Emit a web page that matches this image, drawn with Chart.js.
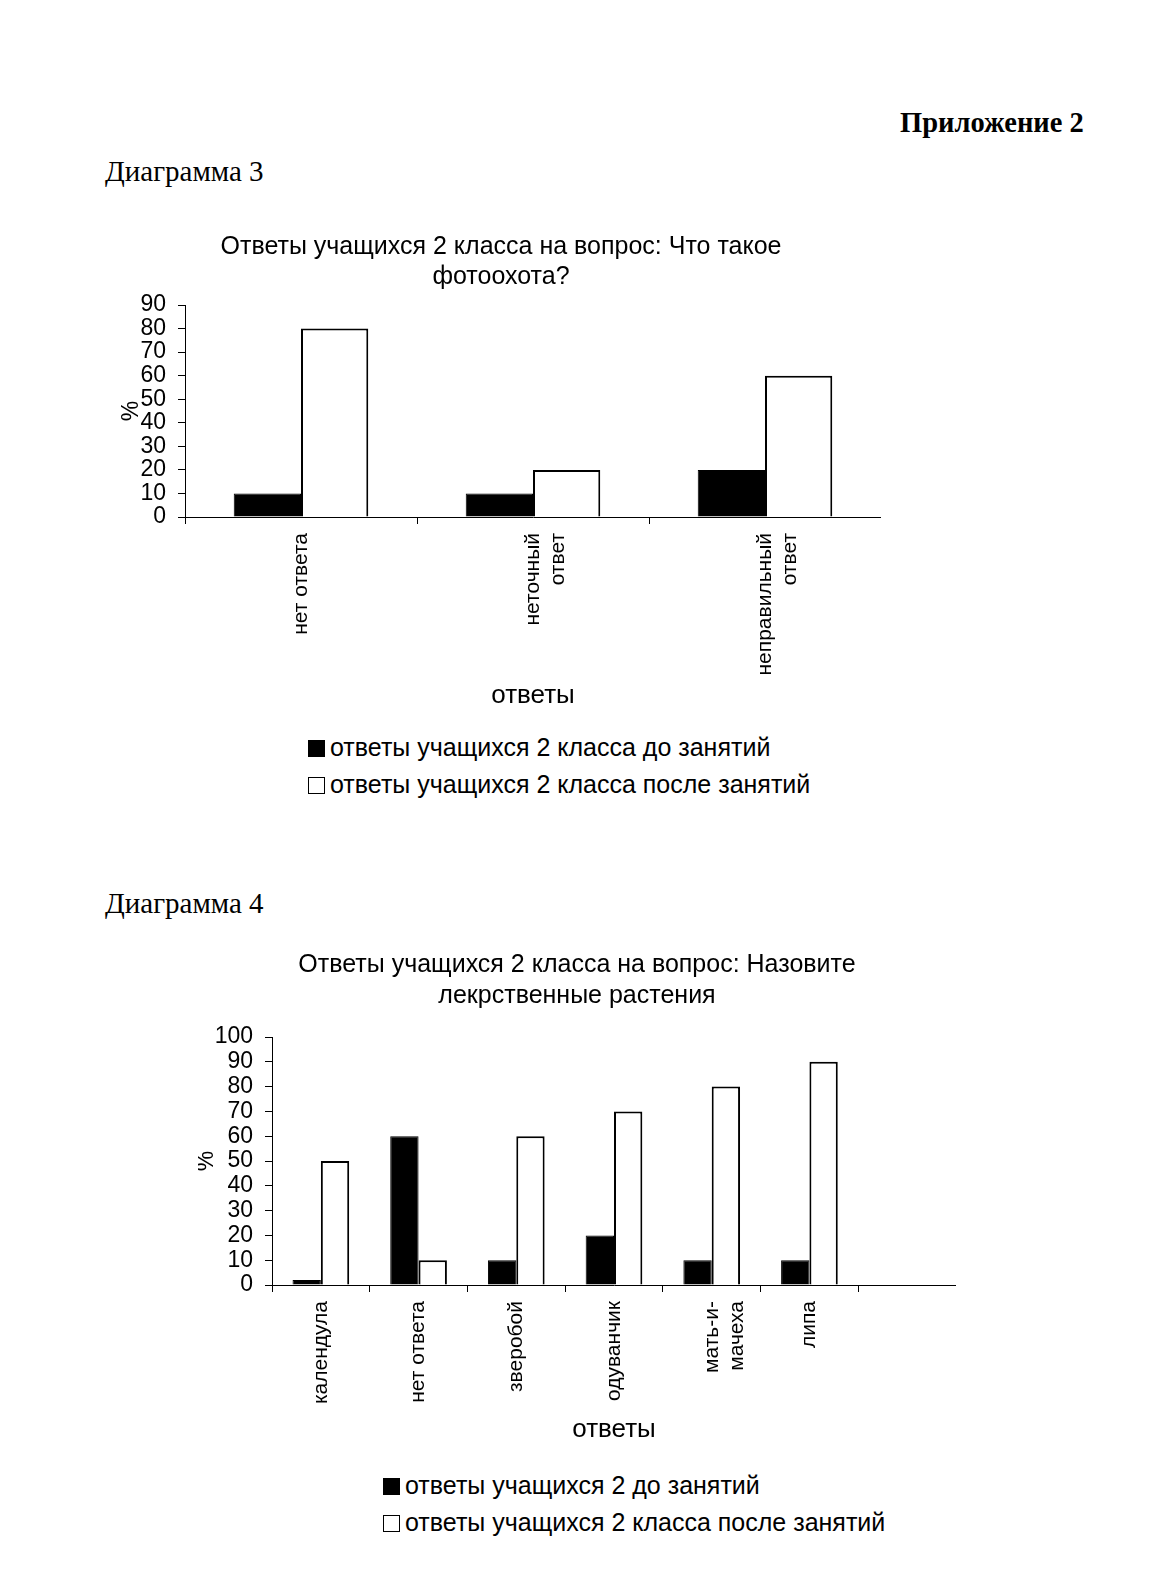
<!DOCTYPE html>
<html lang="ru">
<head>
<meta charset="utf-8">
<title>Приложение 2</title>
<script src="https://cdn.jsdelivr.net/npm/chart.js@4.4.1/dist/chart.umd.min.js"></script>
<style>
    html, body { margin: 0; padding: 0; background: #fff; }
    body { position: relative; width: 1158px; height: 1573px; overflow: hidden; color: #000;
           font-family: "Liberation Sans", Arial, sans-serif; }
    .serif { position: absolute; font-family: "Liberation Serif", "Times New Roman", serif; white-space: nowrap; }
    .box { position: absolute; }
    .legend { position: absolute; font-size: 25px; line-height: 37px; white-space: nowrap; }
    .legend .sw { display: inline-block; box-sizing: border-box; width: 17px; height: 17px;
                  border: 1.5px solid #000; margin-right: 5px; vertical-align: -1px; }
</style>
</head>
<body>

<div class="serif" style="left:900px; top:109px; font-size:28.5px; line-height:28px; font-weight:bold;">Приложение 2</div>
<div class="serif" style="left:105px; top:157px; font-size:29px; line-height:29px;">Диаграмма 3</div>
<div class="box" style="left:121px; top:230px; width:760px; height:480px;"><canvas id="chart3"></canvas></div>
<div class="legend" id="legend3" style="left:308px; top:729px;"></div>

<div class="serif" style="left:105px; top:889px; font-size:29px; line-height:29px;">Диаграмма 4</div>
<div class="box" style="left:198px; top:945px; width:758px; height:495px;"><canvas id="chart4"></canvas></div>
<div class="legend" id="legend4" style="left:383px; top:1467px;"></div>

<script>
// Диаграмма 3
const chart3Title = ['Ответы учащихся 2 класса на вопрос: Что такое', 'фотоохота?'];
const chart3Categories = ['нет ответа', ['неточный', 'ответ'], ['неправильный', 'ответ']];
const chart3Series = ['ответы учащихся 2 класса до занятий', 'ответы учащихся 2 класса после занятий'];
const chart3Before = [10, 10, 20];
const chart3After = [80, 20, 60];
const chart3YMax = 90;

// Диаграмма 4
const chart4Title = ['Ответы учащихся 2 класса на вопрос: Назовите', 'лекрственные растения'];
const chart4Categories = ['календула', 'нет ответа', 'зверобой', 'одуванчик', ['мать-и-', 'мачеха'], 'липа', ''];
const chart4Series = ['ответы учащихся 2 до занятий', 'ответы учащихся 2 класса после занятий'];
const chart4Before = [2, 60, 10, 20, 10, 10, null];
const chart4After = [50, 10, 60, 70, 80, 90, null];
const chart4YMax = 100;

const yStep = 10;
const axisTitle = 'ответы';
const yTitle = '%';
const FONT = '"Liberation Sans", Arial, sans-serif';

Chart.defaults.color = '#000';
Chart.defaults.font.family = FONT;

function makeChart(id, opts) {
    const ctx = document.getElementById(id).getContext('2d');
    return new Chart(ctx, {
        type: 'bar',
        data: {
            labels: opts.labels,
            datasets: [
                {
                    label: opts.series[0],
                    data: opts.before,
                    backgroundColor: '#000',
                    borderColor: '#000',
                    borderWidth: 1,
                    categoryPercentage: 0.58,
                    barPercentage: 1,
                },
                {
                    label: opts.series[1],
                    data: opts.after,
                    backgroundColor: '#fff',
                    borderColor: '#000',
                    borderWidth: 2,
                    categoryPercentage: 0.58,
                    barPercentage: 1,
                }
            ]
        },
        options: {
            responsive: true,
            maintainAspectRatio: false,
            animation: false,
            layout: { padding: 0 },
            scales: {
                x: {
                    afterFit: (scale) => { scale.height = opts.xHeight; },
                    grid: { drawOnChartArea: false, drawTicks: true, tickLength: 7, color: '#000', offset: true },
                    border: { color: '#000', width: 1 },
                    ticks: { minRotation: 90, maxRotation: 90, autoSkip: false, padding: 9,
                             font: { size: 21 }, color: '#000' },
                    title: { display: true, text: axisTitle, font: { size: 26, lineHeight: 1.1 },
                             padding: { top: 0, bottom: opts.xTitlePad }, color: '#000' }
                },
                y: {
                    min: 0,
                    max: opts.yMax,
                    afterFit: (scale) => { scale.width = opts.yWidth; },
                    grid: { drawOnChartArea: false, drawTicks: true, tickLength: 7, color: '#000' },
                    border: { color: '#000', width: 1 },
                    ticks: { stepSize: yStep, autoSkip: false, padding: 12, font: { size: 23, lineHeight: 1 }, color: '#000' },
                    title: { display: true, text: yTitle, font: { size: 23, lineHeight: 1 },
                             padding: { top: opts.yTitlePad, bottom: 0 }, color: '#000' }
                }
            },
            plugins: {
                legend: { display: false },
                tooltip: { enabled: false },
                title: {
                    display: true,
                    text: opts.title,
                    color: '#000',
                    font: { size: 25, weight: 'normal', lineHeight: opts.titleLh },
                    padding: { top: opts.titlePadTop, bottom: opts.titlePad }
                }
            }
        }
    });
}

function buildLegend(el, chart) {
    chart.data.datasets.forEach(ds => {
        const row = document.createElement('div');
        const sw = document.createElement('span');
        sw.className = 'sw';
        sw.style.background = ds.backgroundColor;
        row.appendChild(sw);
        row.appendChild(document.createTextNode(ds.label));
        el.appendChild(row);
    });
}

const chart3 = makeChart('chart3', {
    labels: chart3Categories, series: chart3Series, before: chart3Before, after: chart3After,
    title: chart3Title, yMax: chart3YMax, titleLh: 1.2,
    titlePadTop: 2, titlePad: 13, xHeight: 193, yWidth: 64, xTitlePad: 0, yTitlePad: -1
});
buildLegend(document.getElementById('legend3'), chart3);

const chart4 = makeChart('chart4', {
    labels: chart4Categories, series: chart4Series, before: chart4Before, after: chart4After,
    title: chart4Title, yMax: chart4YMax, titleLh: 1.24,
    titlePadTop: 5, titlePad: 25, xHeight: 155, yWidth: 74, xTitlePad: -4, yTitlePad: -3
});
buildLegend(document.getElementById('legend4'), chart4);
</script>
</body>
</html>
